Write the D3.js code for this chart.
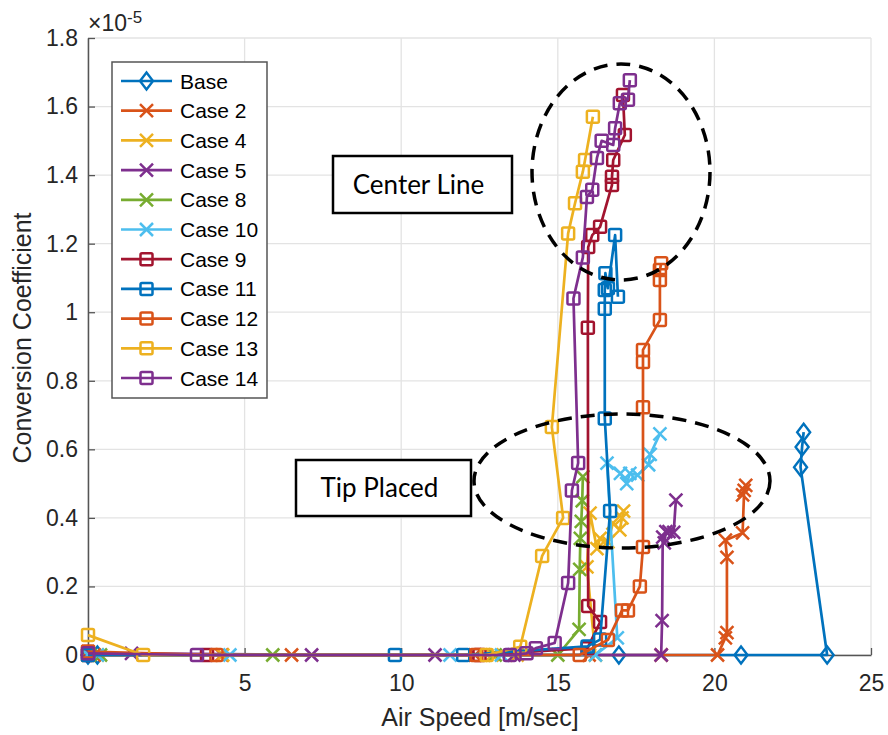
<!DOCTYPE html>
<html>
<head>
<meta charset="utf-8">
<script src="https://cdn.jsdelivr.net/npm/d3@7"></script>
<style>
  body { margin: 0; background: #fff; }
  svg { display: block; }
</style>
</head>
<body>
<div id="chart"></div>
<script>
// series names, in plot order
const seriesNames = ['Base', 'Case 2', 'Case 4', 'Case 5', 'Case 8', 'Case 10',
                     'Case 9', 'Case 11', 'Case 12', 'Case 13', 'Case 14'];

// air speed [m/sec] and conversion coefficient (x1e-5) per series
const baseX = [0, 0.3, 16.95, 20.85, 23.6, 22.75, 22.8, 22.85];
const baseY = [0, 0, 0, 0, 0, 0.548, 0.607, 0.65];

const case2X = [0, 0.2, 4.27, 6.5, 12.36, 16.0, 18.3, 20.1, 20.35, 20.4, 20.4, 20.35, 20.9, 20.95, 21.0, 20.9];
const case2Y = [0.01, 0, 0, 0, 0, 0, 0, 0, 0.05, 0.065, 0.285, 0.335, 0.356, 0.48, 0.495, 0.467];

const case4X = [0, 0.3, 4.3, 12.9, 13.7, 16.2, 15.93, 16.03, 16.25, 16.35, 16.6, 16.76, 16.98, 17.05, 17.1];
const case4Y = [0, 0, 0, 0, 0, 0, 0.257, 0.414, 0.31, 0.34, 0.33, 0.385, 0.365, 0.40, 0.42];

const case5X = [0, 1.39, 7.14, 11.08, 13.6, 18.3, 18.33, 18.35, 18.4, 18.45, 18.55, 18.7, 18.77];
const case5Y = [0.005, 0.005, 0, 0, 0, 0, 0.10, 0.344, 0.327, 0.36, 0.36, 0.358, 0.452];

const case8X = [0, 0.4, 5.9, 13.0, 15.0, 15.68, 15.7, 15.72, 15.75, 15.78, 15.8];
const case8Y = [0, 0, 0, 0, 0, 0.075, 0.25, 0.34, 0.39, 0.45, 0.52];

const case10X = [0, 0.3, 4.53, 11.56, 13.2, 16.2, 16.9, 16.57, 17.0, 17.2, 17.3, 17.55, 17.9, 17.95, 18.26];
const case10Y = [0, 0, 0, 0, 0, 0, 0.05, 0.56, 0.53, 0.50, 0.53, 0.525, 0.555, 0.585, 0.645];

const case9X = [0, 3.8, 12.5, 15.95, 16.35, 15.97, 15.96, 15.97, 16.1, 16.35, 16.73, 16.73, 16.77, 17.14, 17.08];
const case9Y = [0, 0, 0, 0.02, 0.096, 0.143, 0.955, 1.19, 1.225, 1.249, 1.371, 1.395, 1.444, 1.517, 1.634];

const case11X = [0, 9.8, 11.98, 15.95, 16.35, 16.67, 16.5, 16.5, 16.5, 16.52, 16.6, 16.83, 16.92];
const case11Y = [0, 0, 0, 0.025, 0.045, 0.42, 0.69, 1.01, 1.065, 1.114, 1.07, 1.225, 1.045];

const case12X = [0, 4.1, 12.4, 15.7, 16.6, 17.05, 17.24, 17.62, 17.72, 17.72, 17.72, 17.72, 18.26, 18.26, 18.26, 18.3];
const case12Y = [0.01, 0, 0, 0, 0.044, 0.13, 0.13, 0.2, 0.315, 0.723, 0.855, 0.89, 0.977, 1.094, 1.123, 1.143];

const case13X = [0, 1.76, 12.73, 13.8, 14.5, 15.17, 14.81, 15.33, 15.55, 15.8, 15.87, 16.12];
const case13Y = [0.058, 0, 0, 0.024, 0.289, 0.40, 0.665, 1.23, 1.318, 1.41, 1.444, 1.57];

const case14X = [0, 3.48, 13.47, 14.0, 14.3, 14.9, 15.33, 15.45, 15.65, 15.5, 15.8, 15.93, 16.1, 16.25, 16.4, 16.77, 16.83, 16.98, 17.24, 17.3];
const case14Y = [0.005, 0, 0, 0.005, 0.02, 0.035, 0.21, 0.48, 0.56, 1.04, 1.16, 1.336, 1.357, 1.45, 1.50, 1.488, 1.537, 1.61, 1.62, 1.677];

const xTicks = [0, 5, 10, 15, 20, 25];
const yTicks = [0, 0.2, 0.4, 0.6, 0.8, 1, 1.2, 1.4, 1.6, 1.8];

const allX = [baseX, case2X, case4X, case5X, case8X, case10X, case9X, case11X, case12X, case13X, case14X];
const allY = [baseY, case2Y, case4Y, case5Y, case8Y, case10Y, case9Y, case11Y, case12Y, case13Y, case14Y];
const colors = ['#0072BD', '#D95319', '#EDB120', '#7E2F8E', '#77AC30', '#4DBEEE',
                '#A2142F', '#0072BD', '#D95319', '#EDB120', '#7E2F8E'];
const markers = ['diamond', 'x', 'x', 'x', 'x', 'x', 'square', 'square', 'square', 'square', 'square'];

const series = seriesNames.map((name, i) => ({
    name: name,
    color: colors[i],
    marker: markers[i],
    points: allX[i].map((x, j) => ({x: x, y: allY[i][j]}))
}));

const svgWidth = 888, svgHeight = 735;
const margin = {top: 38, right: 17, bottom: 80, left: 88};
const width = svgWidth - margin.left - margin.right;
const height = svgHeight - margin.top - margin.bottom;
const font = '"Liberation Sans", Arial, sans-serif';

const svg = d3.select('#chart').append('svg')
    .attr('width', svgWidth)
    .attr('height', svgHeight);

const g = svg.append('g')
    .attr('transform', `translate(${margin.left}, ${margin.top})`);

const x = d3.scaleLinear().domain([0, 25]).range([0, width]);
const y = d3.scaleLinear().domain([0, 1.8]).range([height, 0]);

// grid
g.append('g').selectAll('line').data(xTicks).enter().append('line')
    .attr('x1', d => x(d)).attr('x2', d => x(d))
    .attr('y1', 0).attr('y2', height)
    .attr('stroke', '#e3e3e3').attr('stroke-width', 1.3);
g.append('g').selectAll('line').data(yTicks).enter().append('line')
    .attr('x1', 0).attr('x2', width)
    .attr('y1', d => y(d)).attr('y2', d => y(d))
    .attr('stroke', '#e3e3e3').attr('stroke-width', 1.3);

// axes, matlab style (ticks inside)
const fmt = d => d3.format('~g')(d);
const xAxis = g.append('g')
    .attr('transform', `translate(0, ${height})`)
    .call(d3.axisBottom(x).tickValues(xTicks).tickSizeInner(-7).tickSizeOuter(0).tickPadding(20).tickFormat(fmt));
const yAxis = g.append('g')
    .call(d3.axisLeft(y).tickValues(yTicks).tickSizeInner(-7).tickSizeOuter(0).tickPadding(10).tickFormat(fmt));

[xAxis, yAxis].forEach(a => {
    a.select('.domain').attr('stroke', '#555').attr('stroke-width', 1.5);
    a.selectAll('.tick line').attr('stroke', '#555').attr('stroke-width', 1.3);
    a.selectAll('text')
        .attr('fill', '#262626')
        .style('font-family', font)
        .style('font-size', '23px');
});

// exponent label
const expo = svg.append('text')
    .attr('x', 88).attr('y', 31)
    .attr('fill', '#262626')
    .style('font-family', font)
    .style('font-size', '23px');
expo.append('tspan').text('×10');
expo.append('tspan').attr('dy', -8).style('font-size', '17px').text('-5');

// axis titles
svg.append('text')
    .attr('x', 480).attr('y', 726)
    .attr('text-anchor', 'middle')
    .attr('fill', '#262626')
    .style('font-family', font)
    .style('font-size', '25px')
    .text('Air Speed [m/sec]');

svg.append('text')
    .attr('transform', 'translate(31, 338) rotate(-90)')
    .attr('text-anchor', 'middle')
    .attr('fill', '#262626')
    .style('font-family', font)
    .style('font-size', '25px')
    .text('Conversion Coefficient');

// marker drawing
function drawMarker(sel, type, color) {
    if (type === 'diamond') {
        sel.append('path').attr('d', 'M0,-8.5L6.5,0L0,8.5L-6.5,0Z')
            .attr('fill', 'none').attr('stroke', color).attr('stroke-width', 2.4);
    } else if (type === 'x') {
        sel.append('path').attr('d', 'M-6.5,-6.5L6.5,6.5M-6.5,6.5L6.5,-6.5')
            .attr('fill', 'none').attr('stroke', color).attr('stroke-width', 2.5);
    } else {
        sel.append('rect').attr('x', -6).attr('y', -6).attr('width', 12).attr('height', 12)
            .attr('rx', 1.5)
            .attr('fill', 'none').attr('stroke', color).attr('stroke-width', 2.5);
    }
}

const line = d3.line().x(d => x(d.x)).y(d => y(d.y));

series.forEach(s => {
    const sg = g.append('g');
    sg.append('path')
        .datum(s.points)
        .attr('d', line)
        .attr('fill', 'none')
        .attr('stroke', s.color)
        .attr('stroke-width', 2.7)
        .attr('stroke-linejoin', 'round');
    sg.selectAll('g.m').data(s.points).enter().append('g')
        .attr('class', 'm')
        .attr('transform', d => `translate(${x(d.x)}, ${y(d.y)})`)
        .each(function() { drawMarker(d3.select(this), s.marker, s.color); });
});

// annotations
const annot = svg.append('g');
annot.append('ellipse')
    .attr('cx', 621).attr('cy', 172).attr('rx', 89).attr('ry', 108)
    .attr('fill', 'none').attr('stroke', '#000').attr('stroke-width', 3.5)
    .attr('stroke-dasharray', '14,9');
annot.append('ellipse')
    .attr('cx', 622).attr('cy', 481).attr('rx', 148).attr('ry', 67)
    .attr('fill', 'none').attr('stroke', '#000').attr('stroke-width', 3.5)
    .attr('stroke-dasharray', '14,9');

const boxes = [
    {label: 'Center Line', x: 333, y: 156, w: 179, h: 57},
    {label: 'Tip Placed', x: 296, y: 460, w: 175, h: 56}
];
boxes.forEach(b => {
    annot.append('rect')
        .attr('x', b.x).attr('y', b.y).attr('width', b.w).attr('height', b.h)
        .attr('fill', '#fff').attr('stroke', '#000').attr('stroke-width', 2.5);
    annot.append('text')
        .attr('x', b.x + b.w / 2 - 4).attr('y', b.y + b.h / 2 + 9)
        .attr('text-anchor', 'middle')
        .attr('fill', '#000')
        .style('font-family', 'Lato, "Open Sans", sans-serif')
        .style('font-size', '26px')
        .text(b.label);
});

// legend
const legend = svg.append('g').attr('transform', 'translate(112, 62)');
legend.append('rect')
    .attr('width', 155).attr('height', 336)
    .attr('fill', '#fff').attr('stroke', '#555').attr('stroke-width', 1.5);
series.forEach((s, i) => {
    const row = legend.append('g').attr('transform', `translate(0, ${19 + i * 29.7})`);
    row.append('line')
        .attr('x1', 9).attr('x2', 60).attr('y1', 0).attr('y2', 0)
        .attr('stroke', s.color).attr('stroke-width', 2.7);
    const m = row.append('g').attr('transform', 'translate(34.5, 0)');
    drawMarker(m, s.marker, s.color);
    row.append('text')
        .attr('x', 68).attr('y', 7.5)
        .attr('fill', '#000')
        .style('font-family', font)
        .style('font-size', '21px')
        .text(s.name);
});
</script>
</body>
</html>
